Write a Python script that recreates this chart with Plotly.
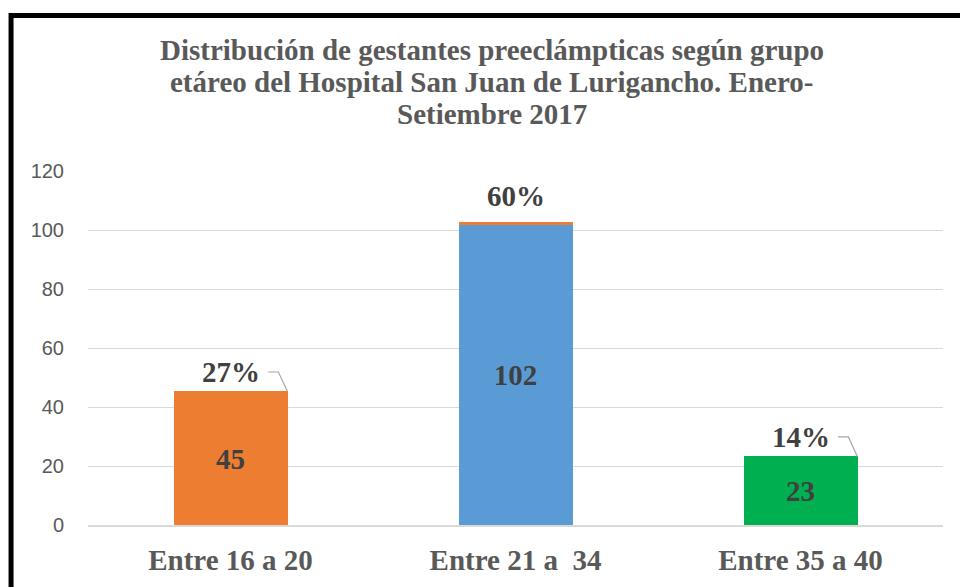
import plotly.graph_objects as go

categories = ["Entre 16 a 20", "Entre 21 a  34", "Entre 35 a 40"]
counts = [45, 102, 23]
pct_values = [0.27, 0.60, 0.14]
pct_labels = ["27%", "60%", "14%"]
bar_colors = ["#ED7D31", "#5B9BD5", "#00B050"]
pct_colors = ["#ED7D31", "#ED7D31", "#00B050"]
y_ticks = [0, 20, 40, 60, 80, 100, 120]
title_lines = ["Distribución de gestantes preeclámpticas según grupo",
               "etáreo del Hospital San Juan de Lurigancho. Enero-",
               "Setiembre 2017"]

serif = "Liberation Serif, Times New Roman, serif"
dark = "#404040"
gray = "#595959"

fig = go.Figure()
fig.add_trace(go.Bar(
    x=categories, y=counts, marker=dict(color=bar_colors, line=dict(width=0)),
    width=0.4, text=[str(v) for v in counts], textposition="inside",
    insidetextanchor="middle", textangle=0,
    textfont=dict(family=serif, size=29, color=dark, weight="bold"),
    hoverinfo="skip", showlegend=False,
))
fig.add_trace(go.Bar(
    x=categories, y=pct_values, marker=dict(color=pct_colors, line=dict(width=0)),
    width=0.4, hoverinfo="skip", showlegend=False,
))

# percent labels (offsets relative to stacked bar top)
label_offsets = [6.6, 8.9, 6.7]
for i, (c, p, lab, off) in enumerate(zip(counts, pct_values, pct_labels, label_offsets)):
    fig.add_annotation(x=i, y=c + p + off, xref="x", yref="y", text=lab, showarrow=False,
                       font=dict(family=serif, size=29, color=dark, weight="bold"),
                       xanchor="center", yanchor="middle")

# leader lines for first and third labels
for i in (0, 2):
    ytxt = counts[i] + pct_values[i] + label_offsets[i]
    fig.add_shape(type="path",
                  path=f"M {i + 0.132} {ytxt} L {i + 0.168} {ytxt} L {i + 0.2} {counts[i] + pct_values[i]}",
                  xref="x", yref="y", line=dict(color="#A6A6A6", width=1.2))

# title, one annotation per line
for k, (line, yp) in enumerate(zip(title_lines, [1.3418, 1.2514, 1.161])):
    fig.add_annotation(x=0.4725, y=yp, xref="paper", yref="paper", text=line,
                       showarrow=False, xanchor="center", yanchor="middle",
                       font=dict(family=serif, size=29, color=gray, weight="bold"))

# black frame
fig.add_shape(type="rect", xref="paper", yref="paper",
              x0=-0.09, x1=1.2, y0=-0.4, y1=1.439,
              line=dict(color="black", width=5), layer="above")

fig.update_layout(
    width=960, height=587,
    margin=dict(l=88, r=17, t=171, b=62),
    paper_bgcolor="white", plot_bgcolor="white",
    barmode="stack", bargap=0.6,
    xaxis=dict(showgrid=False, showline=True, linecolor="#D9D9D9", linewidth=1.5,
               ticks="", tickfont=dict(family=serif, size=29, color=gray, weight="bold"),
               ticklabelstandoff=8),
    yaxis=dict(range=[0, 120], tickvals=y_ticks, showgrid=True, gridcolor="#D9D9D9",
               gridwidth=1, zeroline=False, showline=False, ticks="",
               tickfont=dict(family="Liberation Sans, Arial, sans-serif", size=20, color=gray),
               ticklabelstandoff=23),
)

fig.write_html("out.html", config={"displayModeBar": False},
               post_script="document.body.style.margin='0';document.body.style.overflow='hidden';")
